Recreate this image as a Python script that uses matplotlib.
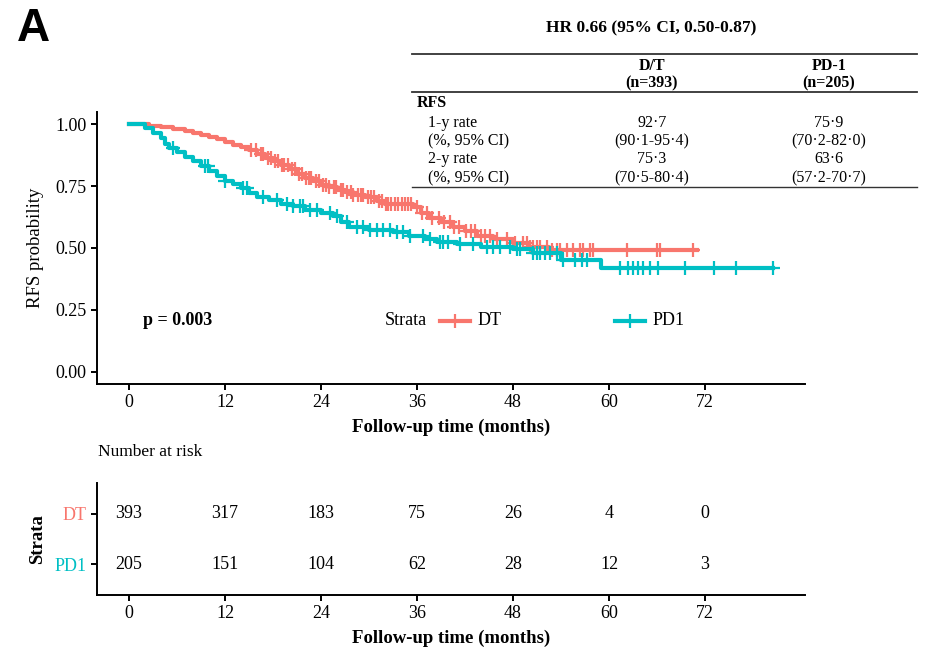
import matplotlib
matplotlib.use("Agg")
import matplotlib.pyplot as plt
import numpy as np

plt.rcParams["font.family"] = ["Liberation Serif", "DejaVu Serif"]

RED = "#F8766D"
TEAL = "#00BFC4"

# ---- survival steps (time in months, survival after drop) ----
dt_time = [0, 2.5, 4, 5.5, 7, 8, 9, 10, 11, 12, 13, 14, 15, 16, 17, 18, 19, 20,
           21, 22, 23, 24, 25, 26, 27, 28, 29.5, 31, 32, 35.5, 36.5, 37.5, 39,
           40.5, 42, 43.5, 45.5, 48, 50, 52.5]
dt_surv = [1.0, 0.995, 0.99, 0.983, 0.975, 0.967, 0.958, 0.95, 0.94, 0.928,
           0.918, 0.907, 0.895, 0.88, 0.865, 0.85, 0.835, 0.818, 0.8, 0.785,
           0.77, 0.755, 0.745, 0.735, 0.725, 0.715, 0.705, 0.69, 0.678, 0.665,
           0.64, 0.62, 0.605, 0.585, 0.57, 0.55, 0.535, 0.52, 0.505, 0.49]
dt_end = 71.0

pd1_time = [0, 2, 3, 4, 4.5, 5, 6, 7, 8, 9, 10, 11, 12, 13, 14, 15, 16, 17.5,
            19, 20.5, 22, 24, 25.5, 26.5, 27.5, 30, 33, 35, 37, 38.5, 41, 44,
            48, 50.5, 54, 59]
pd1_surv = [1.0, 0.985, 0.965, 0.945, 0.92, 0.905, 0.89, 0.87, 0.85, 0.83,
            0.81, 0.79, 0.772, 0.757, 0.742, 0.723, 0.708, 0.693, 0.678, 0.668,
            0.653, 0.643, 0.628, 0.605, 0.585, 0.573, 0.563, 0.55, 0.535, 0.525,
            0.515, 0.505, 0.495, 0.48, 0.452, 0.419]
pd1_end = 80.5

# censoring times
dt_cens = [15.2, 15.9, 16.5, 16.8, 17.4, 17.7, 18.2, 18.6, 19.1, 19.4, 19.9,
           20.4, 20.7, 21.3, 21.6, 22.1, 22.5, 22.8, 23.4, 23.8, 24.3, 24.6,
           25.0, 25.6, 25.9, 26.5, 26.8, 27.3, 27.7, 28.0, 28.6, 29.0, 29.3,
           29.9, 30.3, 30.6, 31.2, 31.6, 32.1, 32.4, 32.8, 33.3, 33.6, 34.1,
           34.5, 34.9, 35.3, 36.0, 36.6, 37.3, 37.9, 38.7, 39.4, 40.1, 40.6,
           41.3, 42.1, 42.7, 43.3, 44.0, 44.5, 45.1, 46.0, 47.3, 48.3, 49.3,
           49.8, 50.1, 50.5, 51.0, 51.4, 52.3, 52.9, 53.5, 53.9, 54.8, 55.5,
           56.4, 56.8, 57.6, 58.0, 62.3, 66.0, 66.4, 70.5]
pd1_cens = [5.5, 9.5, 9.9, 12.0, 14.3, 14.8, 16.8, 18.5, 19.8, 20.5, 21.4,
            21.8, 22.6, 23.5, 25.1, 26.0, 27.3, 28.5, 29.3, 30.1, 31.0, 31.8,
            32.6, 33.5, 34.3, 35.1, 36.8, 37.6, 38.9, 39.3, 39.9, 41.4, 43.0,
            44.8, 45.5, 46.4, 47.6, 48.5, 48.9, 50.5, 51.0, 51.4, 52.0, 52.6,
            53.5, 54.3, 55.8, 56.6, 57.3, 61.4, 62.4, 63.0, 63.6, 64.3, 65.1,
            66.1, 69.5, 73.1, 75.9, 80.5]

risk_times = [0, 12, 24, 36, 48, 60, 72]
risk_dt = [393, 317, 183, 75, 26, 4, 0]
risk_pd1 = [205, 151, 104, 62, 28, 12, 3]

W, H = 928, 656
fig = plt.figure(figsize=(W / 100, H / 100), dpi=100)


def frac(l, t, r, b):
    return [l / W, 1 - b / H, (r - l) / W, (b - t) / H]


def style(ax):
    for s in ["top", "right"]:
        ax.spines[s].set_visible(False)
    for s in ["left", "bottom"]:
        ax.spines[s].set_linewidth(1.4)
    ax.tick_params(length=4, width=1.4, labelsize=13, colors="black")


ax = fig.add_axes(frac(97, 112, 805, 384))
style(ax)

groups = [(dt_time, dt_surv, dt_end, dt_cens, RED),
          (pd1_time, pd1_surv, pd1_end, pd1_cens, TEAL)]
for t, s, end, cens, col in groups:
    tt = np.array(t + [end])
    ss = np.array(s + [s[-1]])
    ax.step(tt, ss, where="post", color=col, lw=3.0, zorder=3)
    idx = np.searchsorted(np.array(t), np.array(cens), side="right") - 1
    ax.plot(cens, np.array(s)[idx], ls="none", marker="+", ms=10,
            mew=1.6, color=col, zorder=3)

ax.set_xlim(-4.0, 84.5)
ax.set_ylim(-0.05, 1.05)
ax.set_xticks(risk_times)
ax.set_yticks([0, 0.25, 0.5, 0.75, 1.0])
ax.set_yticklabels(["0.00", "0.25", "0.50", "0.75", "1.00"])
ax.set_xlabel("Follow-up time (months)", fontsize=13.5, fontweight="bold",
              labelpad=5)
ax.set_ylabel("RFS probability", fontsize=13.5, labelpad=8)

# p-value and legend
ax.text(1.75, 0.205, "p = 0.003", fontsize=13, fontweight="bold",
        va="center", ha="left")
ax.text(32.0, 0.205, "Strata", fontsize=13, va="center", ha="left")
for x0, lab, col in [(38.9, "DT", RED), (60.8, "PD1", TEAL)]:
    ax.plot([x0, x0 + 3.7], [0.205, 0.205], color=col, lw=3.0)
    ax.plot([x0 + 1.85], [0.205], marker="+", ms=10, mew=1.6, color=col)
    ax.text(x0 + 4.7, 0.205, lab, fontsize=13, va="center", ha="left")

# risk table
rx = fig.add_axes(frac(97, 483, 805, 595))
style(rx)
rx.set_xlim(-4.0, 84.5)
rx.set_ylim(0.4, 2.6)
for tm, a, b in zip(risk_times, risk_dt, risk_pd1):
    rx.text(tm, 2, str(a), ha="center", va="center", fontsize=13)
    rx.text(tm, 1, str(b), ha="center", va="center", fontsize=13)
rx.set_xticks(risk_times)
rx.set_yticks([2, 1])
rx.set_yticklabels(["DT", "PD1"])
for lbl, col in zip(rx.get_yticklabels(), [RED, TEAL]):
    lbl.set_color(col)
rx.set_xlabel("Follow-up time (months)", fontsize=13.5, fontweight="bold",
              labelpad=5)
rx.set_ylabel("Strata", fontsize=13.5, fontweight="bold", labelpad=6)
fig.text(98 / W, 1 - 452 / H, "Number at risk", fontsize=12.5,
         ha="left", va="center")

# panel letter
fig.text(17 / W, 1 - 29 / H, "A", fontsize=33, fontweight="bold",
         family="Liberation Sans", ha="left", va="center")

# summary table
fs = 11.5
fig.text(651 / W, 1 - 28 / H, "HR 0.66 (95% CI, 0.50-0.87)", fontsize=12.5,
         fontweight="bold", ha="center", va="center")
for yl, lw in [(54, 1.3), (92, 1.3), (187, 1.0)]:
    fig.add_artist(plt.Line2D([412 / W, 917 / W], [1 - yl / H, 1 - yl / H],
                              color="#333333", lw=lw))
cols = [652, 829]
heads = [("D/T", "(n=393)"), ("PD-1", "(n=205)")]
for cx, (h1, h2) in zip(cols, heads):
    fig.text(cx / W, 1 - 66 / H, h1, fontsize=fs, fontweight="bold",
             ha="center", va="center")
    fig.text(cx / W, 1 - 83 / H, h2, fontsize=fs, fontweight="bold",
             ha="center", va="center")
fig.text(417 / W, 1 - 103 / H, "RFS", fontsize=fs, fontweight="bold",
         ha="left", va="center")
row_labels = ["1-y rate", "(%, 95% CI)", "2-y rate", "(%, 95% CI)"]
row_y = [123, 141, 159, 178]
dt_vals = ["92·7", "(90·1-95·4)", "75·3", "(70·5-80·4)"]
pd1_vals = ["75·9", "(70·2-82·0)", "63·6", "(57·2-70·7)"]
for lab, yy, a, b in zip(row_labels, row_y, dt_vals, pd1_vals):
    fig.text(428 / W, 1 - yy / H, lab, fontsize=fs, ha="left", va="center")
    fig.text(cols[0] / W, 1 - yy / H, a, fontsize=fs, ha="center",
             va="center")
    fig.text(cols[1] / W, 1 - yy / H, b, fontsize=fs, ha="center",
             va="center")

fig.savefig("out.png", dpi=100)
